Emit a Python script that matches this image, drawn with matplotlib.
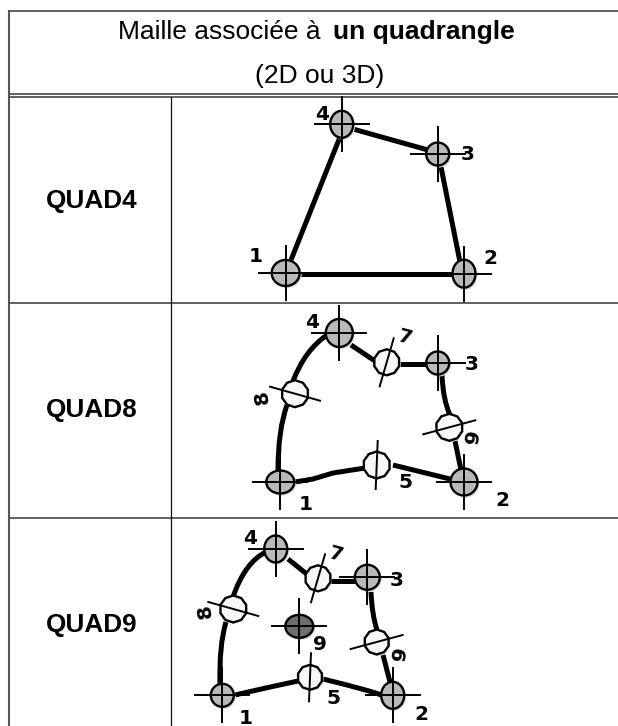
import matplotlib
matplotlib.use('Agg')
import matplotlib.pyplot as plt
from matplotlib.patches import Ellipse, RegularPolygon, PathPatch
from matplotlib.path import Path

# --- table text ---
TITLE_LEFT = "Maille associée à "
TITLE_BOLD = "un quadrangle"
SUBTITLE = "(2D ou 3D)"
MESH_NAMES = ["QUAD4", "QUAD8", "QUAD9"]

# table rules, in image pixels
ROW_LINES = [11, 94, 97, 303, 518]
LEFT_X, COL_X = 8.5, 171
ROW_MIDS = [201, 410, 625]

# --- QUAD4 ---
Q4_LABELS = ["1", "2", "3", "4"]
Q4_X = [285.7, 464, 437.7, 341.7]
Q4_Y = [273, 273.7, 154, 124.3]
Q4_RX = [14, 11.5, 11.5, 11.5]
Q4_RY = [13, 14, 11.5, 13.5]
Q4_TEXT_X = [256, 490, 468, 322]
Q4_TEXT_Y = [256, 258, 154, 115]
Q4_EDGES = [
    [(291, 260), (340, 137)],
    [(353, 129), (428, 150)],
    [(441, 167), (460, 262)],
    [(300, 273.5), (452, 273.5)],
]

# --- QUAD8 ---
Q8_LABELS = ["1", "2", "3", "4", "5", "6", "7", "8"]
Q8_X = [280.3, 464, 437.7, 339.3, 376.7, 449.3, 386.7, 295]
Q8_Y = [482, 482, 363, 333, 465, 427.3, 362.3, 393.7]
Q8_RX = [14, 13.5, 11.5, 13.5, 12, 12, 12, 12.5]
Q8_RY = [11.5, 13.5, 11.5, 14, 12.5, 12.5, 11.5, 11.5]
Q8_TEXT_X = [306, 502, 472, 312, 405, 468, 405, 262]
Q8_TEXT_Y = [505, 501, 365, 322, 482, 438, 337, 397]
Q8_ROT = [0, 0, 0, 0, 0, -100, -15, 100]
Q8_EDGES = [
    [(278, 470), (278, 430), (287, 405)],
    [(293, 381), (305, 350), (327, 335)],
    [(351, 345), (375, 361)],
    [(400, 364), (428, 364)],
    [(442, 375), (443, 400), (450, 415)],
    [(455, 441), (461, 470)],
    [(295, 482), (313, 479), (333, 473), (365, 468)],
    [(393, 465), (450, 479)],
]

# --- QUAD9 ---
Q9_LABELS = ["1", "2", "3", "4", "5", "6", "7", "8", "9"]
Q9_X = [222.3, 392.7, 367.3, 275.7, 310, 376.7, 318, 233.3, 299.3]
Q9_Y = [695.3, 695.3, 577.3, 549, 677.3, 642, 578.3, 609, 626.3]
Q9_RX = [11.5, 11.5, 12.5, 11.5, 11.5, 11.5, 11.5, 12.5, 14]
Q9_RY = [11.5, 13.5, 12.5, 13.5, 11.5, 11.5, 12, 10.5, 11.5]
Q9_TEXT_X = [246, 421, 397, 250, 333, 395, 336, 205, 320]
Q9_TEXT_Y = [718, 715, 581, 539, 698, 655, 554, 611, 645]
Q9_ROT = [0, 0, 0, 0, 0, -100, -15, 100, 0]
Q9_EDGES = [
    [(220, 684), (219, 645), (226, 622)],
    [(233, 597), (245, 562), (266, 552)],
    [(288, 559), (308, 575)],
    [(331, 581), (356, 581)],
    [(371, 592), (372, 615), (377, 630)],
    [(383, 655), (390, 682)],
    [(235, 695), (265, 688), (298, 681)],
    [(323, 679), (372, 691), (381, 695)],
]

# crosshair styles: half lengths and tilt per node kind
CORNER_ARM = 27
MID_TILT = {"5": (1, -24), "6": (26, -7), "7": (7, -24), "8": (25, 7)}
CURVED_EDGES = 3


def draw_edges(ax, edges, curved):
    for edge in edges:
        if curved and len(edge) == CURVED_EDGES:
            path = Path(edge, [Path.MOVETO, Path.CURVE3, Path.CURVE3])
            ax.add_patch(PathPatch(path, fc='none', ec='black', lw=3.6, capstyle='butt', zorder=2))
        else:
            ax.plot([p[0] for p in edge], [p[1] for p in edge], color='black', lw=3.6,
                    solid_capstyle='butt', solid_joinstyle='round', zorder=2)


def draw_node(ax, x, y, rx, ry, face, poly=False, zorder=3):
    ax.add_patch(Ellipse((x + 1.5, y + 1.5), 2 * rx + 1, 2 * ry + 1, fc='#d8d8d8', ec='none', zorder=zorder))
    if poly:
        ax.add_patch(RegularPolygon((x, y), 10, radius=max(rx, ry) + 1, fc=face, ec='black', lw=1.7, zorder=zorder + 0.1))
    else:
        ax.add_patch(Ellipse((x, y), 2 * rx, 2 * ry, fc=face, ec='black', lw=1.7, zorder=zorder + 0.1))


def draw_cross(ax, x, y):
    ax.plot([x - CORNER_ARM, x + CORNER_ARM], [y, y], color='black', lw=1.4, zorder=4)
    ax.plot([x, x], [y - CORNER_ARM, y + CORNER_ARM], color='black', lw=1.4, zorder=4)


def draw_mesh(ax, labels, xs, ys, rxs, rys, text_x, text_y, rots, edges):
    draw_edges(ax, edges, len(labels) > 4)
    for i, name in enumerate(labels):
        if name == "9":
            draw_node(ax, xs[i], ys[i], rxs[i], rys[i], '#6e6e6e')
            draw_cross(ax, xs[i], ys[i])
        elif name in MID_TILT and len(labels) > 4:
            draw_node(ax, xs[i], ys[i], rxs[i], rys[i], '#f7f7f7', poly=True)
            dx, dy = MID_TILT[name]
            ax.plot([xs[i] - dx, xs[i] + dx], [ys[i] - dy, ys[i] + dy], color='black', lw=1.4, zorder=4)
        else:
            draw_node(ax, xs[i], ys[i], rxs[i], rys[i], '#b9b9b9')
            draw_cross(ax, xs[i], ys[i])
        ax.text(text_x[i], text_y[i], name, rotation=rots[i], ha='center', va='center',
                fontsize=14.5, fontweight='bold', family='DejaVu Sans', zorder=5)


fig = plt.figure(figsize=(6.18, 7.26), dpi=100)
ax = fig.add_axes([0, 0, 1, 1])
ax.set_xlim(0, 618)
ax.set_ylim(726, 0)
ax.axis('off')

# table rules
for y in ROW_LINES:
    ax.plot([LEFT_X, 618], [y, y], color='#555555', lw=1.3, zorder=1)
ax.plot([LEFT_X, LEFT_X], [ROW_LINES[0], 726], color='#555555', lw=1.5, zorder=1)
ax.plot([COL_X, COL_X], [ROW_LINES[2], 726], color='#111111', lw=0.9, zorder=1)

# header
t = ax.text(118, 32, TITLE_LEFT, fontsize=19, family='Liberation Sans', ha='left', va='center')
fig.canvas.draw()
bb = t.get_window_extent()
ax.text(bb.x1 + 5, 32, TITLE_BOLD, fontsize=19, family='Liberation Sans', fontweight='bold', ha='left', va='center')
ax.text(320, 76, SUBTITLE, fontsize=19, family='Liberation Sans', ha='center', va='center')

for name, y in zip(MESH_NAMES, ROW_MIDS):
    ax.text(92, y, name, fontsize=18.8, family='Liberation Sans', fontweight='bold', ha='center', va='center')

draw_mesh(ax, Q4_LABELS, Q4_X, Q4_Y, Q4_RX, Q4_RY, Q4_TEXT_X, Q4_TEXT_Y, [0] * 4, Q4_EDGES)
draw_mesh(ax, Q8_LABELS, Q8_X, Q8_Y, Q8_RX, Q8_RY, Q8_TEXT_X, Q8_TEXT_Y, Q8_ROT, Q8_EDGES)
draw_mesh(ax, Q9_LABELS, Q9_X, Q9_Y, Q9_RX, Q9_RY, Q9_TEXT_X, Q9_TEXT_Y, Q9_ROT, Q9_EDGES)

fig.savefig('out.png', dpi=100)
